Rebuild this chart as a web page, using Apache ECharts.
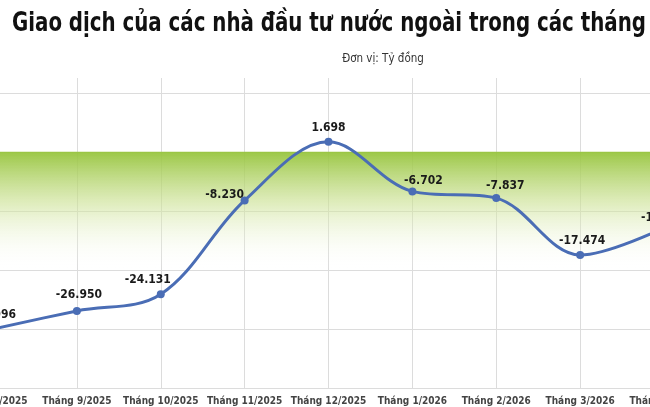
<!DOCTYPE html>
<html>
<head>
<meta charset="utf-8">
<script src="https://cdn.jsdelivr.net/npm/echarts@6/dist/echarts.min.js"></script>
<style>
  html, body { margin: 0; padding: 0; background: #fff; }
  #chart { width: 650px; height: 407px; }
</style>
</head>
<body>
<div id="chart"></div>
<script>
// số liệu (tỷ đồng)
var months = ['Tháng 8/2025', 'Tháng 9/2025', 'Tháng 10/2025', 'Tháng 11/2025', 'Tháng 12/2025',
  'Tháng 1/2026', 'Tháng 2/2026', 'Tháng 3/2026', 'Tháng 4/2026']
var netValues = [-29996, -26950, -24131, -8230, 1698, -6702, -7837, -17474, -12850]
var yMin = -40000
var yMax = 12500
var yStep = 10000

// label dịch kiểu Excel
var labelShift = [[0, 0], [2, -2], [-13, 0], [-20, 8], [0, 0], [11, 3], [9, 2], [2, 0], [0, 4]]

var condensed = '"DejaVu Sans Condensed", "DejaVu Sans", sans-serif'

function fmt(v) {
  var s = Math.abs(v).toString().replace(/\B(?=(\d{3})+(?!\d))/g, '.')
  return (v < 0 ? '-' : '') + s
}

var chart = echarts.init(document.getElementById('chart'))

var option = {
  animation: false,
  title: {
    text: 'Đơn vị: Tỷ đồng',
    left: 378,
    top: 48,
    textAlign: 'center',
    textStyle: { fontFamily: condensed, fontSize: 11.5, fontWeight: 'normal', color: '#333' }
  },
  graphic: [{
    type: 'text',
    left: 12,
    top: 10,
    scaleX: 0.815,
    style: {
      text: 'Giao dịch của các nhà đầu tư nước ngoài trong các tháng',
      font: 'bold 27px "DejaVu Sans Condensed", sans-serif',
      fill: '#111'
    }
  }],
  grid: { left: -7, right: -14, top: 78, bottom: 19, containLabel: false, outerBoundsMode: 'none' },
  xAxis: {
    type: 'category',
    data: months,
    boundaryGap: false,
    axisLine: { lineStyle: { color: '#d9d9d9' } },
    axisTick: { show: false },
    axisLabel: {
      interval: 0,
      margin: 8,
      fontFamily: condensed,
      fontSize: 10,
      fontWeight: 'bold',
      color: '#444'
    },
    splitLine: { show: true, lineStyle: { color: '#dcdcdc', width: 1 } }
  },
  yAxis: {
    type: 'value',
    min: yMin,
    max: yMax,
    interval: yStep,
    axisLine: { show: false },
    axisTick: { show: false },
    axisLabel: { show: false },
    splitLine: {
      lineStyle: { color: ['#dcdcdc', '#dcdcdc', '#dcdcdc', '#dcdcdc', '#dcdcdc', '#dcdcdc', 'rgba(0,0,0,0)'] }
    }
  },
  series: [{
    type: 'line',
    data: netValues.map(function (v, i) {
      return { value: v, label: { offset: labelShift[i] } }
    }),
    smooth: 0.35,
    symbol: 'circle',
    symbolSize: 8,
    lineStyle: { color: '#4a6db5', width: 3 },
    itemStyle: { color: '#4a6db5' },
    label: {
      show: true,
      position: 'top',
      distance: 4,
      formatter: function (p) { return fmt(p.value) },
      fontFamily: condensed,
      fontSize: 12,
      fontWeight: 'bold',
      color: '#1a1a1a'
    },
    markArea: {
      silent: true,
      itemStyle: {
        color: new echarts.graphic.LinearGradient(0, 0, 0, 1, [
          { offset: 0, color: 'rgba(150,196,60,0.95)' },
          { offset: 0.45, color: 'rgba(205,226,150,0.6)' },
          { offset: 1, color: 'rgba(255,255,255,0)' }
        ])
      },
      data: [[{ yAxis: 0 }, { yAxis: -20000 }]]
    }
  }]
}

chart.setOption(option)
</script>
</body>
</html>
